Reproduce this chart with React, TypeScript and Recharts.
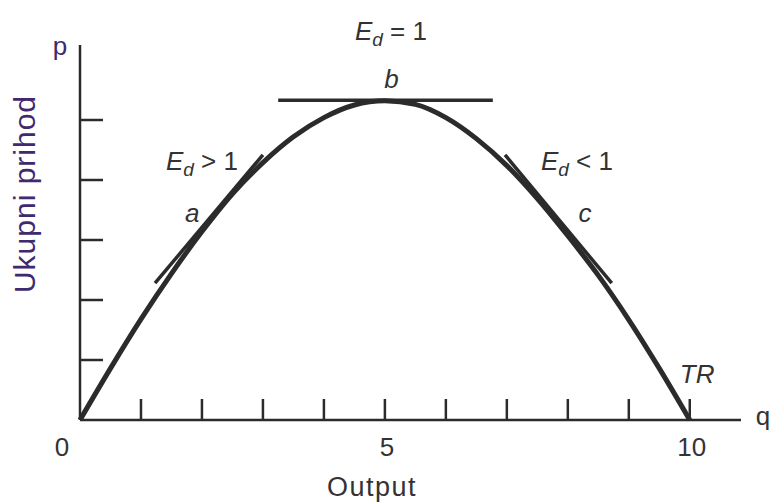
import { LineChart, Line, XAxis, YAxis, ReferenceLine, ReferenceDot } from "recharts";

// output q and total revenue TR (TR in tick units)
const outputQ = [0, 0.5, 1, 1.5, 2, 2.5, 3, 3.5, 4, 4.5, 5, 5.5, 6, 6.5, 7, 7.5, 8, 8.5, 9, 9.5, 10];
const revenueTR = [0, 0.86, 1.68, 2.44, 3.14, 3.77, 4.29, 4.72, 5.04, 5.25, 5.32, 5.26, 5.04, 4.69, 4.24, 3.69, 3.07, 2.41, 1.67, 0.86, 0];

const xTicks = [0, 1, 2, 3, 4, 5, 6, 7, 8, 9, 10];
const xLabels = [0, 5, 10];
const yTicks = [1, 2, 3, 4, 5];

// tangent segments a, b, c: [q1, tr1, q2, tr2]
const tangentA = [1.23, 2.28, 3.0, 4.42];
const tangentB = [3.25, 5.33, 6.77, 5.33];
const tangentC = [6.97, 4.42, 8.72, 2.28];

const data = outputQ.map((q, i) => ({ q, tr: revenueTR[i] }));

const FONT = '"Liberation Sans", Arial, Helvetica, sans-serif';
const INK = "#2b2b2b";
const TXT = "#333";
const PURPLE = "#40296e";

const XTick = (props: any) => {
  const { x, y, payload } = props;
  const v = payload.value;
  return (
    <g>
      {v !== 0 && <line x1={x} y1={y} x2={x} y2={y - 21} stroke={INK} strokeWidth={2.5} />}
      {xLabels.includes(v) && (
        <text x={x + (v === 0 ? -18 : 2)} y={y + 36} textAnchor="middle" fontFamily={FONT} fontSize={26} fill={TXT}>
          {v}
        </text>
      )}
    </g>
  );
};

const YTick = (props: any) => {
  const { x, y } = props;
  return <line x1={x} y1={y} x2={x + 23} y2={y} stroke={INK} strokeWidth={2.5} />;
};

const seg = (s: number[]) => (
  <ReferenceLine
    segment={[{ x: s[0], y: s[1] }, { x: s[2], y: s[3] }]}
    stroke={INK}
    strokeWidth={3.5}
    ifOverflow="visible"
  />
);

const note = (key: string, q: number, v: number, body: any, extra: any = {}) => (
  <ReferenceDot
    key={key}
    x={q}
    y={v}
    r={0}
    ifOverflow="visible"
    shape={(p: any) => (
      <text x={p.cx} y={p.cy} textAnchor="middle" fontFamily={FONT} fontSize={26} fill={TXT} {...extra}>
        {body}
      </text>
    )}
  />
);

const Ed = (rel: string) => (
  <>
    <tspan fontStyle="italic">E</tspan>
    <tspan fontStyle="italic" fontSize={19} dy={6}>d</tspan>
    <tspan dy={-6}>{` ${rel} 1`}</tspan>
  </>
);

export default function App() {
  return (
    <>
      <style>{"body{margin:0;overflow:hidden}"}</style>
      <LineChart width={772} height={502} data={data} margin={{ top: 45, right: 31, bottom: 22, left: 20 }}>
        <XAxis
          dataKey="q"
          type="number"
          domain={[0, 10.84]}
          ticks={xTicks}
          interval={0}
          tickSize={0}
          tickMargin={0}
          height={60}
          tick={<XTick />}
          axisLine={{ stroke: INK, strokeWidth: 2.5 }}
          tickLine={false}
        />
        <YAxis
          type="number"
          domain={[0, 6.25]}
          ticks={yTicks}
          interval={0}
          tickSize={0}
          tickMargin={0}
          width={60}
          tick={<YTick />}
          axisLine={{ stroke: INK, strokeWidth: 2.5 }}
          tickLine={false}
        />
        {seg(tangentA)}
        {seg(tangentB)}
        {seg(tangentC)}
        <Line
          dataKey="tr"
          type="monotone"
          stroke={INK}
          strokeWidth={5}
          dot={false}
          activeDot={false}
          isAnimationActive={false}
        />
        {note("eb", 5.1, 6.33, Ed("="))}
        {note("b", 5.11, 5.53, "b", { fontStyle: "italic" })}
        {note("ea", 2.0, 4.17, Ed(">"))}
        {note("a", 1.84, 3.3, "a", { fontStyle: "italic" })}
        {note("ec", 8.15, 4.17, Ed("<"))}
        {note("c", 8.28, 3.3, "c", { fontStyle: "italic" })}
        {note("tr", 10.12, 0.62, "TR", { fontStyle: "italic" })}
        {note("q", 11.2, -0.08, "q")}
        {note("p", -0.33, 6.08, "p", { fill: PURPLE })}
        {note("out", 4.79, -1.27, "Output", { letterSpacing: 1.5, fontSize: 27 })}
        <text
          x={35}
          y={194}
          transform="rotate(-90 35 194)"
          textAnchor="middle"
          fontFamily={FONT}
          fontSize={30}
          letterSpacing={1}
          fill={PURPLE}
        >
          Ukupni prihod
        </text>
      </LineChart>
    </>
  );
}
